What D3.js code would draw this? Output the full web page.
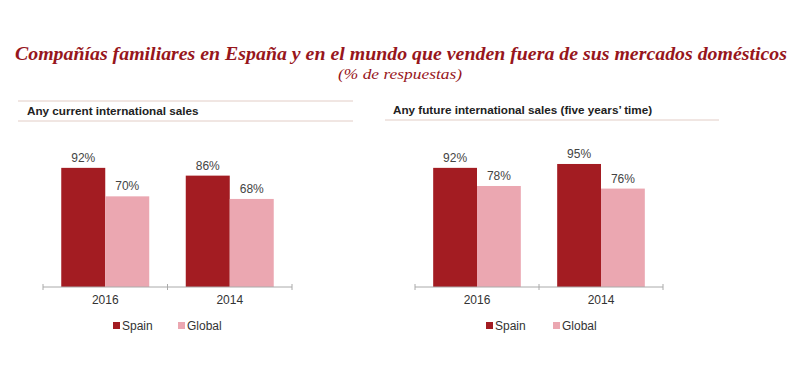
<!DOCTYPE html>
<html>
<head>
<meta charset="utf-8">
<script src="https://cdn.jsdelivr.net/npm/d3@7"></script>
<style>
  body { margin: 0; background: #fff; }
  svg { display: block; }
</style>
</head>
<body>
<svg id="chart" width="800" height="391"></svg>
<script>
const title = "Compañías familiares en España y en el mundo que venden fuera de sus mercados domésticos";
const subtitle = "(% de respuestas)";
const categories = ["2016", "2014"];
const seriesNames = ["Spain", "Global"];
const currentSpain = [92, 86];
const currentGlobal = [70, 68];
const futureSpain = [92, 95];
const futureGlobal = [78, 76];
const panelTitles = ["Any current international sales", "Any future international sales (five years\u2019 time)"];

const colors = { Spain: "#a31c22", Global: "#eba7b1" };
const svg = d3.select("#chart");

svg.append("text")
  .attr("x", 401).attr("y", 60)
  .attr("text-anchor", "middle")
  .attr("font-family", "'Liberation Serif', serif")
  .attr("font-style", "italic").attr("font-weight", "bold")
  .attr("font-size", 18)
  .attr("fill", "#97161c")
  .attr("textLength", 772).attr("lengthAdjust", "spacingAndGlyphs")
  .text(title);

svg.append("text")
  .attr("x", 400).attr("y", 79)
  .attr("text-anchor", "middle")
  .attr("font-family", "'Liberation Serif', serif")
  .attr("font-style", "italic")
  .attr("font-size", 15)
  .attr("fill", "#97161c")
  .attr("textLength", 124).attr("lengthAdjust", "spacingAndGlyphs")
  .text(subtitle);

const panels = [
  { title: panelTitles[0], spain: currentSpain, global: currentGlobal,
    lineX: [18, 353], topLine: 101, botLine: 121, textX: 27, textY: 115,
    axisX: [43, 292], legend: [113, 178] },
  { title: panelTitles[1], spain: futureSpain, global: futureGlobal,
    lineX: [385, 719], topLine: null, botLine: 120, textX: 393, textY: 114,
    axisX: [415, 663], legend: [486, 553] }
];

const y = d3.scaleLinear().domain([0, 100]).range([287, 157.5]);

panels.forEach(p => {
  const g = svg.append("g");
  const lineColor = "#e2cdc6";
  if (p.topLine !== null) {
    g.append("line").attr("x1", p.lineX[0]).attr("x2", p.lineX[1])
      .attr("y1", p.topLine).attr("y2", p.topLine)
      .attr("stroke", lineColor).attr("stroke-width", 1);
  }
  g.append("line").attr("x1", p.lineX[0]).attr("x2", p.lineX[1])
    .attr("y1", p.botLine).attr("y2", p.botLine)
    .attr("stroke", lineColor).attr("stroke-width", 1);
  g.append("text").attr("x", p.textX).attr("y", p.textY)
    .attr("font-family", "'Liberation Sans', Arial, sans-serif")
    .attr("font-weight", "bold").attr("font-size", 11.7)
    .attr("fill", "#222").text(p.title);

  const x0 = d3.scaleBand().domain(categories).range(p.axisX).paddingInner(0).paddingOuter(0);
  const x1 = d3.scaleBand().domain(seriesNames).range([0, x0.bandwidth()]).paddingOuter(0.415);

  const data = categories.map((c, i) => ({ cat: c, vals: [
    { s: "Spain", v: p.spain[i] }, { s: "Global", v: p.global[i] } ] }));

  const grp = g.selectAll("g.cat").data(data).join("g")
    .attr("transform", d => `translate(${x0(d.cat)},0)`);
  grp.selectAll("rect").data(d => d.vals).join("rect")
    .attr("x", d => x1(d.s)).attr("width", x1.bandwidth())
    .attr("y", d => y(d.v)).attr("height", d => y(0) - y(d.v))
    .attr("fill", d => colors[d.s]);
  grp.selectAll("text.val").data(d => d.vals).join("text")
    .attr("class", "val")
    .attr("x", d => x1(d.s) + x1.bandwidth() / 2)
    .attr("y", d => y(d.v) - 6)
    .attr("text-anchor", "middle")
    .attr("font-family", "'Liberation Sans', Arial, sans-serif")
    .attr("font-size", 12).attr("fill", "#444")
    .text(d => d.v + "%");

  const axis = d3.axisBottom(x0).tickSize(0).tickPadding(8);
  const ag = g.append("g").attr("transform", `translate(0,${y(0)})`).call(axis);
  ag.select(".domain").attr("stroke", "#aaa").attr("d", `M${p.axisX[0]},0H${p.axisX[1]}`);
  ag.selectAll(".tick text")
    .attr("font-family", "'Liberation Sans', Arial, sans-serif")
    .attr("font-size", 12).attr("fill", "#333");
  const bounds = [p.axisX[0], ...categories.slice(1).map(c => x0(c)), p.axisX[1]];
  ag.selectAll("line.bound").data(bounds).join("line").attr("class", "bound")
    .attr("x1", d => d).attr("x2", d => d).attr("y1", -3).attr("y2", 3)
    .attr("stroke", "#aaa");

  const lg = g.append("g");
  seriesNames.forEach((s, i) => {
    lg.append("rect").attr("x", p.legend[i]).attr("y", 322).attr("width", 7).attr("height", 7)
      .attr("fill", colors[s]);
    lg.append("text").attr("x", p.legend[i] + 9).attr("y", 330)
      .attr("font-family", "'Liberation Sans', Arial, sans-serif")
      .attr("font-size", 12).attr("fill", "#333").text(s);
  });
});
</script>
</body>
</html>
